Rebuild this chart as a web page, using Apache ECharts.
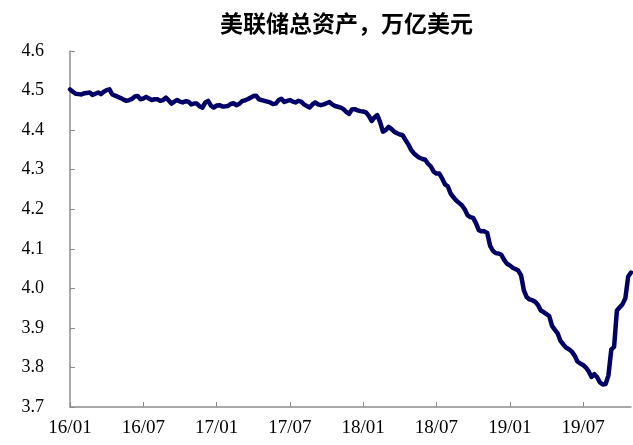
<!DOCTYPE html>
<html>
<head>
<meta charset="utf-8">
<script src="https://cdn.jsdelivr.net/npm/echarts@6/dist/echarts.min.js"></script>
<style>
  html, body { margin: 0; padding: 0; background: #fff; }
  #chart { width: 633px; height: 445px; }
</style>
</head>
<body>
<div id="chart"></div>
<script>
// weekly Fed total assets, trillion USD, first week 2016-01-06
const startDate = new Date(Date.UTC(2016, 0, 6))
const assets = [
  4.503, 4.497, 4.492, 4.491, 4.490, 4.493, 4.494, 4.495, 4.489, 4.492,
  4.495, 4.491, 4.497, 4.501, 4.503, 4.490, 4.487, 4.484, 4.481, 4.477,
  4.474, 4.476, 4.479, 4.485, 4.486, 4.478, 4.480, 4.484, 4.480, 4.476,
  4.478, 4.478, 4.474, 4.476, 4.482, 4.475, 4.467, 4.472, 4.476, 4.472,
  4.470, 4.473, 4.472, 4.465, 4.467, 4.467, 4.460, 4.457, 4.470, 4.474,
  4.462, 4.457, 4.462, 4.463, 4.460, 4.460, 4.461, 4.466, 4.468, 4.463,
  4.466, 4.473, 4.475, 4.478, 4.482, 4.486, 4.487, 4.478, 4.476, 4.474,
  4.472, 4.470, 4.466, 4.467, 4.476, 4.479, 4.471, 4.474, 4.476, 4.472,
  4.470, 4.474, 4.472, 4.465, 4.461, 4.457, 4.465, 4.470, 4.465, 4.463,
  4.465, 4.468, 4.471, 4.465, 4.461, 4.459, 4.457, 4.453, 4.446, 4.441,
  4.452, 4.453, 4.450, 4.448, 4.447, 4.445, 4.436, 4.423, 4.432, 4.438,
  4.420, 4.396, 4.400, 4.408, 4.403, 4.396, 4.392, 4.389, 4.387, 4.375,
  4.364, 4.350, 4.341, 4.335, 4.330, 4.327, 4.325, 4.315, 4.308, 4.295,
  4.290, 4.290, 4.278, 4.263, 4.258, 4.240, 4.230, 4.222, 4.216, 4.210,
  4.200, 4.185, 4.180, 4.178, 4.165, 4.147, 4.144, 4.144, 4.140, 4.108,
  4.095, 4.089, 4.088, 4.085, 4.072, 4.062, 4.058, 4.052, 4.049, 4.045,
  4.033, 3.995, 3.978, 3.972, 3.970, 3.966, 3.958, 3.944, 3.940, 3.935,
  3.930, 3.905, 3.895, 3.886, 3.867, 3.858, 3.850, 3.846, 3.840, 3.830,
  3.815, 3.810, 3.806, 3.800, 3.790, 3.776, 3.783, 3.775, 3.762, 3.757,
  3.758, 3.780, 3.845, 3.852, 3.944, 3.952, 3.960, 3.975, 4.030, 4.040
]
// label positions (week index) and their text
const tickIdx = [0, 26, 52, 78, 104, 130, 156, 182]
const tickLabels = ['16/01', '16/07', '17/01', '17/07', '18/01', '18/07', '19/01', '19/07']

const weeks = assets.map((_, i) => {
  const d = new Date(startDate.getTime() + i * 7 * 86400000)
  return d.toISOString().slice(0, 10)
})

const chart = echarts.init(document.getElementById('chart'))
const isTick = (i) => tickIdx.indexOf(i) >= 0

chart.setOption({
  animation: false,
  title: {
    text: '美联储总资产，万亿美元',
    left: 215,
    top: 7,
    textStyle: { fontFamily: 'Noto Sans CJK SC', fontSize: 23, fontWeight: 'bold', color: '#000' }
  },
  grid: { left: 70, right: 2, top: 51, bottom: 38 },
  xAxis: {
    type: 'category',
    data: weeks,
    boundaryGap: false,
    axisLine: { lineStyle: { color: '#8c8c8c', width: 1.5 } },
    axisTick: { inside: true, length: 5, interval: (i) => isTick(i), lineStyle: { color: '#8c8c8c' } },
    axisLabel: {
      interval: (i) => isTick(i),
      formatter: (v, i) => tickLabels[tickIdx.indexOf(i)] || '',
      fontFamily: 'Liberation Serif',
      fontSize: 19,
      color: '#000',
      margin: 12
    },
    splitLine: { show: false }
  },
  yAxis: {
    type: 'value',
    min: 3.7,
    max: 4.6,
    interval: 0.1,
    axisLine: { show: true, lineStyle: { color: '#8c8c8c', width: 1.5 } },
    axisTick: { show: true, inside: true, length: 5, lineStyle: { color: '#8c8c8c' } },
    axisLabel: {
      formatter: (v) => v.toFixed(1),
      fontFamily: 'Liberation Serif',
      fontSize: 18,
      color: '#000',
      margin: 26
    },
    splitLine: { show: false }
  },
  series: [{
    type: 'line',
    data: assets,
    showSymbol: false,
    lineStyle: { color: '#000066', width: 4.5, join: 'round', cap: 'round' }
  }]
})
</script>
</body>
</html>
